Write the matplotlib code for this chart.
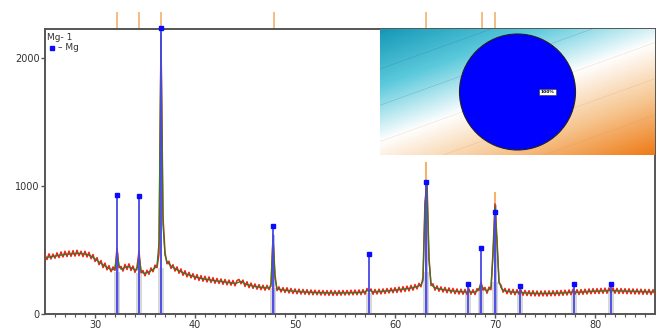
import numpy as np
import matplotlib
matplotlib.use("Agg")
import matplotlib.pyplot as plt
from matplotlib.colors import LinearSegmentedColormap

# scan grid, 0.2 deg steps from 25 to 86
two_theta = np.round(np.arange(25.0, 86.01, 0.2), 2)

# measured (noisy) counts
raw_counts = [
    462, 425, 470, 430, 468, 435, 478, 440, 485, 445,
    490, 448, 492, 450, 495, 452, 498, 455, 490, 448,
    490, 445, 482, 432, 465, 410, 440, 385, 418, 362,
    398, 345, 378, 330, 368, 340, 515, 362, 372, 335,
    388, 348, 392, 340, 375, 325, 368, 490, 322, 340,
    298, 342, 310, 360, 330, 382, 362, 470, 2150, 760,
    480, 392, 412, 356, 385, 335, 368, 318, 352, 302,
    338, 290, 325, 282, 315, 270, 308, 262, 300, 256,
    295, 250, 290, 246, 284, 240, 278, 238, 274, 232,
    270, 228, 265, 225, 262, 220, 262, 270, 236, 265,
    215, 252, 206, 242, 200, 235, 194, 230, 190, 225,
    186, 224, 190, 235, 590, 305, 182, 212, 172, 206,
    168, 205, 164, 200, 160, 196, 158, 194, 156, 192,
    154, 190, 152, 188, 150, 186, 150, 185, 148, 184,
    147, 183, 146, 184, 145, 182, 146, 183, 147, 184,
    148, 184, 149, 186, 150, 187, 150, 188, 151, 190,
    154, 199, 176, 196, 154, 192, 156, 194, 157, 196,
    160, 199, 164, 202, 166, 206, 168, 210, 172, 214,
    176, 218, 180, 224, 186, 230, 196, 240, 212, 285,
    880, 1020, 440, 222, 236, 186, 220, 178, 212, 172,
    208, 166, 204, 164, 200, 158, 196, 156, 194, 154,
    192, 152, 196, 154, 190, 152, 198, 184, 250, 186,
    208, 162, 210, 190, 485, 860, 580, 242, 226, 170,
    200, 158, 196, 154, 192, 150, 190, 154, 188, 146,
    184, 144, 182, 142, 182, 141, 180, 140, 180, 141,
    181, 140, 181, 142, 182, 143, 183, 144, 184, 146,
    186, 148, 188, 151, 194, 154, 190, 152, 191, 154,
    194, 156, 196, 158, 198, 160, 198, 160, 200, 162,
    202, 162, 204, 166, 204, 162, 200, 160, 199, 160,
    198, 158, 197, 158, 196, 156, 195, 156, 194, 154,
    192, 154, 192, 152, 190, 154,
]

# smoothed profile
smooth_counts = [
    440, 442, 445, 448, 450, 452, 455, 458, 460, 462,
    465, 467, 468, 470, 470, 472, 472, 473, 472, 470,
    468, 465, 460, 452, 442, 430, 418, 405, 395, 385,
    375, 365, 355, 348, 345, 360, 470, 380, 350, 355,
    365, 370, 368, 362, 355, 345, 345, 460, 340, 320,
    318, 322, 330, 338, 348, 360, 380, 560, 2200, 700,
    460, 410, 390, 375, 365, 355, 345, 338, 330, 322,
    315, 310, 305, 300, 295, 290, 286, 282, 278, 275,
    272, 270, 268, 265, 262, 260, 258, 256, 254, 252,
    250, 248, 246, 244, 242, 240, 242, 250, 255, 245,
    235, 230, 226, 222, 218, 215, 212, 210, 208, 206,
    205, 204, 205, 215, 620, 280, 200, 192, 190, 188,
    186, 184, 182, 180, 178, 177, 176, 175, 174, 173,
    172, 171, 170, 170, 169, 168, 168, 167, 167, 166,
    166, 165, 165, 165, 164, 164, 164, 164, 165, 165,
    165, 165, 166, 166, 167, 167, 168, 168, 169, 170,
    172, 180, 190, 178, 172, 172, 174, 175, 176, 178,
    179, 180, 182, 183, 185, 186, 188, 190, 192, 194,
    196, 198, 200, 203, 206, 210, 215, 220, 230, 260,
    850, 1000, 420, 240, 215, 205, 200, 196, 193, 190,
    188, 186, 184, 182, 180, 178, 176, 175, 174, 173,
    172, 171, 176, 172, 170, 172, 178, 200, 228, 205,
    188, 182, 190, 210, 460, 840, 560, 260, 205, 188,
    180, 177, 175, 173, 171, 170, 169, 172, 168, 166,
    165, 164, 163, 162, 162, 161, 160, 160, 160, 160,
    160, 160, 160, 161, 161, 162, 162, 163, 164, 165,
    166, 167, 168, 170, 174, 172, 170, 170, 171, 172,
    173, 174, 175, 176, 177, 178, 178, 179, 180, 180,
    181, 182, 184, 186, 183, 182, 181, 180, 180, 179,
    179, 178, 178, 177, 177, 176, 176, 175, 175, 174,
    174, 173, 173, 172, 172, 171,
]

# Mg reference sticks
mg_pos = [32.2, 34.4, 36.6, 47.8, 57.4, 63.1, 67.3, 68.6, 70.0, 72.5, 77.9, 81.6]
mg_int = [930, 920, 2230, 688, 470, 1030, 234, 515, 797, 219, 234, 234]
# grey band heights at base of each stick
band_h = [330, 320, 360, 205, 165, 330, 172, 185, 250, 168, 168, 178]
# fitted peak areas (blue)
fit_pos = [32.2, 34.4, 36.6, 47.8, 63.1, 68.6, 70.0]
fit_int = [480, 460, 2200, 620, 1010, 225, 850]

# orange markers (second phase)
top_marks = [32.2, 34.4, 36.6, 47.9, 63.1, 68.7, 70.0]
orange_pos = [63.1, 70.0]
orange_int = [1190, 950]

pie_vals = [100]
pie_labels = ["100%"]

fig = plt.figure(figsize=(6.6, 3.29), dpi=100)
ax = fig.add_axes([45/660, 15/329, 610/660, 285/329])

ax.vlines(orange_pos, 0, orange_int, colors="#f5b26b", lw=1.5, zorder=1)
ax.bar(mg_pos, band_h, width=0.55, color="#d8d8d8", zorder=1)
ax.bar(fit_pos, fit_int, width=0.3, color="#6f6ff0", alpha=0.45, zorder=2)
ax.plot(two_theta, raw_counts, color="#ee2418", lw=1.1, zorder=3)
ax.plot(two_theta, smooth_counts, color="#2f7a2a", lw=0.9, zorder=4)
ax.vlines(mg_pos, 0, mg_int, colors="#4848e6", lw=1.3, zorder=5)
ax.plot(mg_pos, mg_int, "s", color="#0a0aff", ms=3.2, zorder=6, clip_on=False)

ax.vlines(top_marks, 1.0, 1.06, colors="#f0b070", lw=1.2,
          transform=ax.get_xaxis_transform(), clip_on=False)

ax.set_xlim(25, 86)
ax.set_ylim(0, 2226)
ax.set_xticks([30, 40, 50, 60, 70, 80])
ax.set_xticks(np.arange(26, 86, 1), minor=True)
ax.set_yticks([0, 1000, 2000])
for s in ax.spines.values():
    s.set_color("#555555")
    s.set_linewidth(1.4)
ax.tick_params(axis="both", which="major", labelsize=7, colors="#555555",
               labelcolor="#333333", width=1, length=3, pad=1)
ax.tick_params(axis="x", which="minor", length=2, width=0.8, colors="#555555")

ax.text(0.004, 0.985, "Mg- 1", transform=ax.transAxes, fontsize=6.5,
        color="#333333", va="top", ha="left")
ax.plot([0.012], [0.935], "s", color="#0a0aff", ms=2.5, transform=ax.transAxes)
ax.text(0.022, 0.935, "– Mg", transform=ax.transAxes, fontsize=6.5,
        color="#333333", va="center", ha="left")

# inset with phase fraction pie
ax_in = fig.add_axes([380/660, (329-155)/329, 275/660, 126/329])
xr, yr = 2.37, 1.086
gx, gy = np.meshgrid(np.linspace(0, 275, 300), np.linspace(0, 126, 140))
t = (0.34*gx + 0.94*gy) / 212.0
cmap = LinearSegmentedColormap.from_list(
    "bg", ["#1598b8", "#5ccadc", "#ffffff", "#f6c58e", "#ee7a16"])
ax_in.imshow(t, cmap=cmap, extent=(-xr, xr, -yr, yr), origin="upper",
             aspect="auto", zorder=0)
for off in np.linspace(-2.5, 2.5, 9):
    xs = np.array([-xr, xr])
    ax_in.plot(xs, off + xs*0.36, color="#3060a0" if off > 0 else "#e09050",
               lw=0.5, alpha=0.25, zorder=1)
ax_in.pie(pie_vals, colors=["#0000ff"], radius=1.0,
          wedgeprops=dict(edgecolor="#222222", linewidth=0.8))
ax_in.text(0.52, 0.0, pie_labels[0], fontsize=3.2, fontweight="bold",
           ha="center", va="center",
           bbox=dict(boxstyle="square,pad=0.3", fc="white", ec="#333333", lw=0.4))
ax_in.set_xlim(-xr, xr)
ax_in.set_ylim(-yr, yr)
ax_in.set_aspect("auto")
ax_in.axis("off")

fig.savefig("out.png", dpi=100)
